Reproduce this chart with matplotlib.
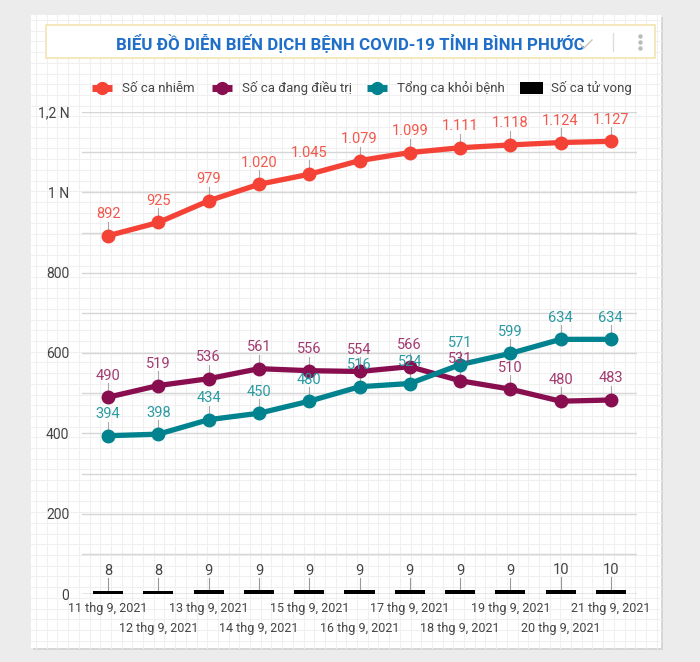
import numpy as np
import matplotlib
matplotlib.use("Agg")
import matplotlib.pyplot as plt
from matplotlib.patches import Rectangle

plt.rcParams["font.family"] = ["Roboto", "DejaVu Sans"]

ngay = ["11 thg 9, 2021", "12 thg 9, 2021", "13 thg 9, 2021", "14 thg 9, 2021",
        "15 thg 9, 2021", "16 thg 9, 2021", "17 thg 9, 2021", "18 thg 9, 2021",
        "19 thg 9, 2021", "20 thg 9, 2021", "21 thg 9, 2021"]
so_ca_nhiem = [892, 925, 979, 1020, 1045, 1079, 1099, 1111, 1118, 1124, 1127]
dang_dieu_tri = [490, 519, 536, 561, 556, 554, 566, 531, 510, 480, 483]
khoi_benh = [394, 398, 434, 450, 480, 516, 524, 571, 599, 634, 634]
tu_vong = [8, 8, 9, 9, 9, 9, 9, 9, 9, 10, 10]

ytick_vals = [0, 200, 400, 600, 800, 1000, 1200]
ytick_text = ["0", "200", "400", "600", "800", "1 N", "1,2 N"]

RED, RED_T = "#f44336", "#f4574b"
PUR, PUR_T = "#880e4f", "#a23a70"
TEAL, TEAL_T = "#00838f", "#2a9aa2"

W, H = 700, 662
fig = plt.figure(figsize=(W / 100, H / 100), dpi=100)
fig.patch.set_facecolor("#ececec")

# background: card with graph-paper pattern (pixel coordinates)
bg = fig.add_axes([0, 0, 1, 1])
bg.set_xlim(0, W)
bg.set_ylim(H, 0)
bg.axis("off")
bg.add_patch(Rectangle((33, 17), 630, 633, fc="#d6d6d6", ec="none", zorder=0))
bg.add_patch(Rectangle((31, 15), 630, 633, fc="white", ec="none", zorder=0.5))
for gx in np.arange(36, 661, 10.7):
    bg.plot([gx, gx], [15, 648], color="#f0f0f0", lw=0.8, zorder=1)
for gy in np.arange(20, 648, 10.7):
    bg.plot([31, 661], [gy, gy], color="#f0f0f0", lw=0.8, zorder=1)
# title box
bg.add_patch(Rectangle((46, 25), 609, 33, fc="white", ec="#f3e4b0", lw=1.2, zorder=3))
bg.text(350, 43, "BIỂU ĐỒ DIỄN BIẾN DỊCH BỆNH COVID-19 TỈNH BÌNH PHƯỚC",
        ha="center", va="center", fontsize=12.2, fontweight="bold",
        color="#1f6fc9", zorder=4)
bg.plot([580, 584, 592], [44, 48, 40], color="#c4c4c4", lw=1, zorder=5)
bg.plot([613, 613], [33, 51], color="#dddddd", lw=1, zorder=4)
for dy in (36, 42, 48):
    bg.plot(640, dy, "o", ms=2.2, color="#bbbbbb", zorder=4)

# legend
leg_items = [("Số ca nhiễm", RED, 92), ("Số ca đang điều trị", PUR, 212),
             ("Tổng ca khỏi bệnh", TEAL, 367)]
for name, col, x0 in leg_items:
    bg.plot([x0, x0 + 20], [88, 88], color=col, lw=5, solid_capstyle="butt", zorder=4)
    bg.plot(x0 + 10, 88, "o", ms=8.5, color=col, zorder=4)
    bg.text(x0 + 30, 88, name, ha="left", va="center", fontsize=9.5,
            color="#444444", zorder=4)
bg.add_patch(Rectangle((520, 82), 23, 12, fc="black", ec="none", zorder=4))
bg.text(551, 88, "Số ca tử vong", ha="left", va="center", fontsize=9.5,
        color="#444444", zorder=4)

# main chart
ax = fig.add_axes([82 / W, (H - 594) / H, 555 / W, 482 / H])
ax.patch.set_alpha(0)
x = np.arange(len(ngay))
ax.set_xlim(-0.52, len(ngay) - 0.48)
ax.set_ylim(0, 1200)
for yv in range(100, 1201, 100):
    ax.axhline(yv, color="#d6d6d6", lw=1, zorder=0)
ax.axhline(0, color="#888888", lw=1, zorder=1)
for s in ax.spines.values():
    s.set_visible(False)
ax.set_yticks(ytick_vals)
ax.set_yticklabels(ytick_text)
ax.tick_params(axis="y", length=0, pad=9, labelsize=10, labelcolor="#444444")
ax.set_xticks([])

# x labels in two rows
for i, lab in enumerate(ngay):
    off = -6 if i % 2 == 0 else -20
    ax.annotate(lab, (i, 0), xytext=(0, off), textcoords="offset points",
                ha="center", va="top", fontsize=9, color="#444444",
                annotation_clip=False)

# death bars
ax.bar(x, tu_vong, width=0.6, color="black", zorder=3)
for i, v in enumerate(tu_vong):
    ax.plot([i, i], [v, v + 32], color="#999999", lw=0.8, zorder=2)
    ax.annotate(str(v), (i, v), xytext=(0, 9), textcoords="offset points",
                ha="center", va="bottom", fontsize=10.5, color="#444444")


def fmt(v):
    return f"{v:,}".replace(",", ".")


for ys, col, tcol in [(so_ca_nhiem, RED, RED_T), (dang_dieu_tri, PUR, PUR_T),
                      (khoi_benh, TEAL, TEAL_T)]:
    ax.plot(x, ys, color=col, lw=3.8, marker="o", ms=9, zorder=4)
    for i, v in enumerate(ys):
        ax.plot([i, i], [v, v + 35], color="#aaaaaa", lw=0.8, zorder=2)
        ax.annotate(fmt(v), (i, v), xytext=(0, 10.5), textcoords="offset points",
                    ha="center", va="bottom", fontsize=10.5, color=tcol, zorder=5)

fig.savefig("out.png", dpi=100, facecolor=fig.get_facecolor())
